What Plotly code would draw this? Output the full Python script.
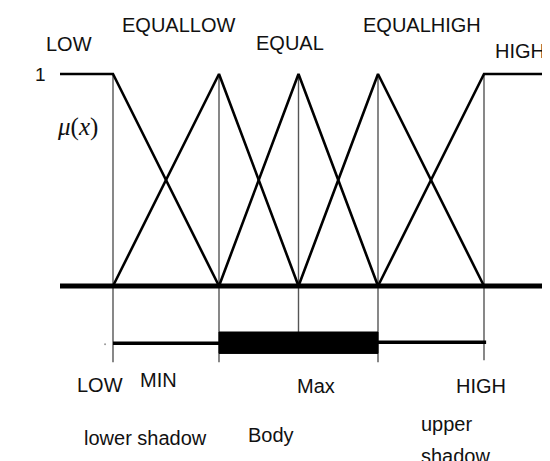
import plotly.graph_objects as go

# fuzzy sets and the x position of each peak / breakpoint
sets = ["LOW", "EQUALLOW", "EQUAL", "EQUALHIGH", "HIGH"]
peaks = [2.0, 4.0, 5.5, 7.0, 9.0]
x_start, x_end = 1.0, 10.25

# candle drawn under the axis
candle_low, candle_open, candle_close, candle_high = 2.0, 4.0, 7.0, 9.0
shadow_y = -0.27
body_top, body_bottom = -0.217, -0.318
guide_bottom = [-0.36, -0.36, -0.217, -0.36, -0.35]

bottom_labels = ["LOW", "MIN", "Max", "HIGH"]
part_labels = ["lower shadow", "Body", "upper", "shadow"]

W, H = 550, 461
OFF = 8  # page body margin in the browser
FONT = "Liberation Sans, Arial, sans-serif"

fig = go.Figure()

# thin gray guides from mu=1 down past the candle
for p, b in zip(peaks, guide_bottom):
    fig.add_trace(go.Scatter(x=[p, p], y=[1, b], mode="lines",
                             line=dict(color="#555555", width=1.4)))

# membership functions
for i, name in enumerate(sets):
    if i == 0:
        xs, ys = [x_start, peaks[0], peaks[1]], [1, 1, 0]
    elif i == len(sets) - 1:
        xs, ys = [peaks[i - 1], peaks[i], x_end], [0, 1, 1]
    else:
        xs, ys = [peaks[i - 1], peaks[i], peaks[i + 1]], [0, 1, 0]
    fig.add_trace(go.Scatter(x=xs, y=ys, mode="lines", name=name,
                             line=dict(color="black", width=2.6)))

# x axis line
fig.add_trace(go.Scatter(x=[x_start, x_end - 0.04], y=[0, 0], mode="lines",
                         line=dict(color="black", width=5)))

# candle shadows and body
fig.add_trace(go.Scatter(x=[candle_low, candle_open], y=[shadow_y, shadow_y], mode="lines",
                         line=dict(color="black", width=3.5)))
fig.add_trace(go.Scatter(x=[candle_close, candle_high + 0.04], y=[shadow_y + 0.005] * 2, mode="lines",
                         line=dict(color="black", width=3.5)))
fig.add_trace(go.Scatter(x=[candle_open, candle_close, candle_close, candle_open, candle_open],
                         y=[body_top, body_top, body_bottom, body_bottom, body_top],
                         mode="lines", fill="toself", fillcolor="black",
                         line=dict(color="black", width=1)))
fig.add_trace(go.Scatter(x=[candle_low - 0.15], y=[shadow_y - 0.005], mode="markers",
                         marker=dict(color="#999999", size=2)))

ann = []
def label(text, px, py, size=20, family=FONT, xanchor="center"):
    ann.append(dict(text=text, x=(px - OFF) / (W - OFF), y=1 - (py - OFF) / (H - OFF),
                    xref="paper", yref="paper",
                    showarrow=False, xanchor=xanchor, yanchor="middle",
                    font=dict(family=family, size=size, color="#111111")))

label("1", 40, 75, size=19)
label("<i>μ</i>(<i>x</i>)", 77, 127, size=25, family="Liberation Serif, DejaVu Serif, serif")

top_pos = [(69, 44), (178, 25), (290, 43), (422, 25), (520, 51)]
for name, (px, py) in zip(sets, top_pos):
    label(name, px, py)

bottom_pos = [(100, 385), (158, 380), (316, 386), (481, 386)]
for name, (px, py) in zip(bottom_labels, bottom_pos):
    label(name, px, py)

label(part_labels[0], 145, 438)
label(part_labels[1], 271, 435)
label(part_labels[2], 419, 424, xanchor="left")
label(part_labels[3], 419, 456, xanchor="left")

fig.update_layout(
    width=W - OFF, height=H - OFF,
    margin=dict(l=0, r=0, t=0, b=0),
    paper_bgcolor="white", plot_bgcolor="white",
    showlegend=False,
    annotations=ann,
    xaxis=dict(range=[(OFF - 7) / 53, (W - 7) / 53], visible=False, fixedrange=True),
    yaxis=dict(range=[(286 - H) / 212, (286 - OFF) / 212], visible=False, fixedrange=True),
)

fig.write_html("out.html")
